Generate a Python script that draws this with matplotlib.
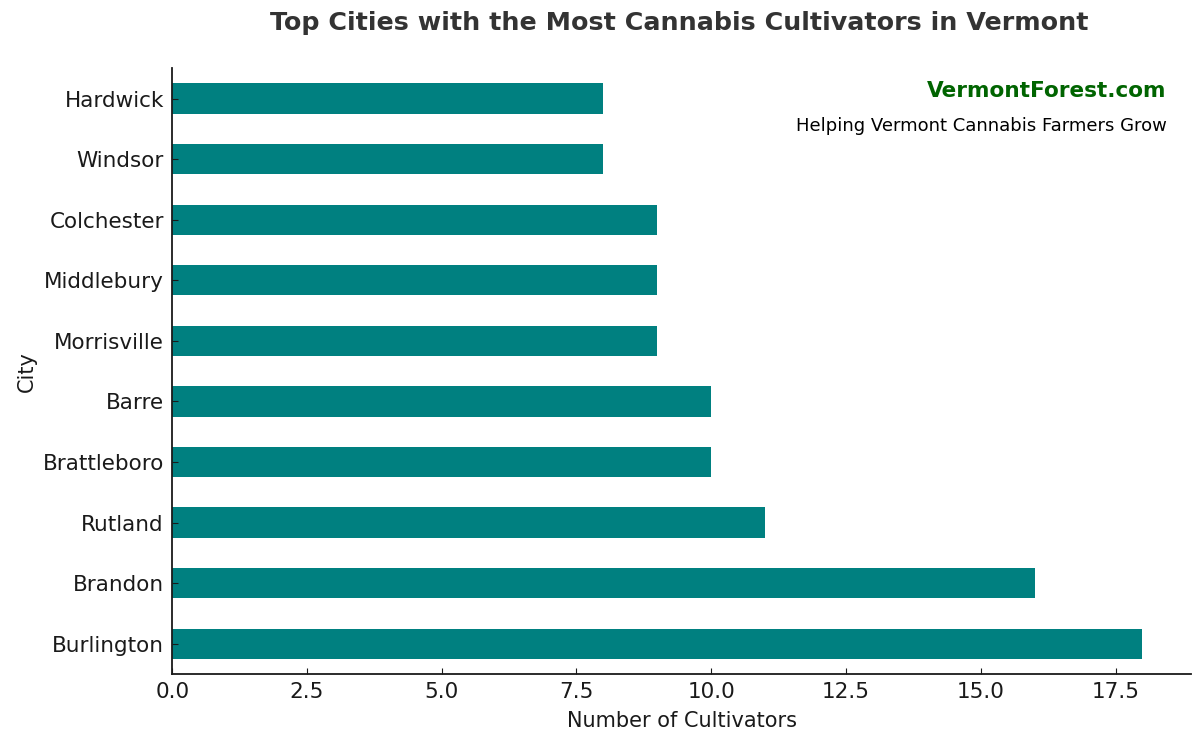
import matplotlib
matplotlib.use("Agg")
import matplotlib.pyplot as plt

cities = ["Burlington", "Brandon", "Rutland", "Brattleboro", "Barre",
          "Morrisville", "Middlebury", "Colchester", "Windsor", "Hardwick"]
counts = [18, 16, 11, 10, 10, 9, 9, 9, 8, 8]

fig = plt.figure(figsize=(12, 7.45), dpi=100)
ax = fig.add_axes([0.1435, 0.0953, 0.849, 0.813])

ax.barh(range(len(cities)), counts, height=0.5, color="#008080")
ax.set_yticks(range(len(cities)))
ax.set_yticklabels(cities)
ax.set_ylim(-0.5, len(cities) - 0.5)
ax.set_xlim(0, max(counts) * 1.05)

ax.spines["top"].set_visible(False)
ax.spines["right"].set_visible(False)
ax.tick_params(direction="in", labelsize=15.5, length=4, colors="#1a1a1a", pad=6)
for s in ["left", "bottom"]:
    ax.spines[s].set_linewidth(1.3)
    ax.spines[s].set_color("#1a1a1a")

ax.set_xlabel("Number of Cultivators", fontsize=15, color="#1a1a1a", labelpad=6)
ax.set_ylabel("City", fontsize=15, color="#1a1a1a", labelpad=4)
fig.suptitle("Top Cities with the Most Cannabis Cultivators in Vermont",
             fontsize=18.3, fontweight="bold", color="#333333", x=0.566, y=0.985)

fig.text(0.972, 0.878, "VermontForest.com", ha="right", va="center",
         fontsize=15.6, fontweight="bold", color="#006400")
fig.text(0.972, 0.831, "Helping Vermont Cannabis Farmers Grow", ha="right",
         va="center", fontsize=13, color="black")

fig.savefig("out.png", dpi=100)
